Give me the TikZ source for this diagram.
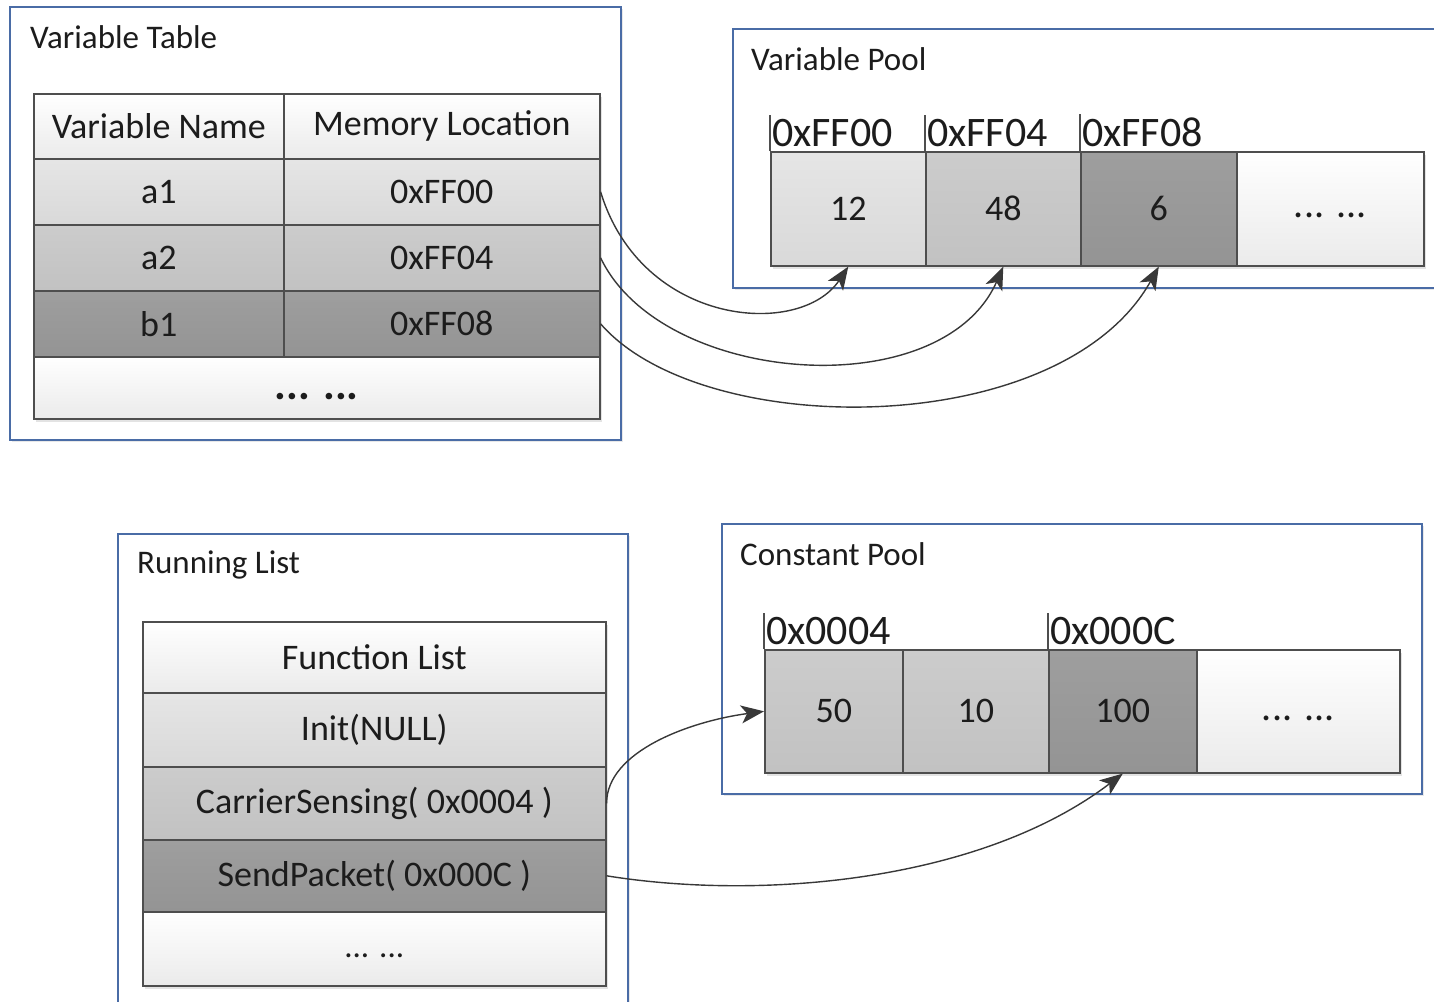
\documentclass[tikz,border=0pt]{standalone}
\usepackage{fontspec}
\setmainfont{Carlito}
\usetikzlibrary{arrows.meta,shadows}

\definecolor{frameblue}{RGB}{74,108,166}
\definecolor{cellline}{RGB}{78,78,78}
\definecolor{ink}{RGB}{28,28,28}
\definecolor{arrowgray}{RGB}{56,56,56}

\tikzset{
  frame/.style={draw=frameblue, line width=2pt, fill=white,
    drop shadow={shadow xshift=2pt, shadow yshift=-2pt, opacity=0.18}},
  title/.style={anchor=base west, inner sep=0pt, text=ink,
    font=\fontsize{33}{36}\selectfont},
  cell/.style={draw=cellline, line width=1.6pt, inner sep=0pt, anchor=north west,
    text=ink, font=\fontsize{36}{40}\selectfont,
    drop shadow={shadow xshift=2pt, shadow yshift=-3pt, opacity=0.22}},
  dotrow/.style={text height=18pt, text depth=0pt},
  blank/.style={top color=white, bottom color=black!8},
  light/.style={top color=black!10, bottom color=black!15},
  mid/.style={top color=black!20, bottom color=black!24},
  dark/.style={top color=black!38, bottom color=black!42},
  addr/.style={anchor=south west, inner xsep=2pt, inner ysep=4pt, text=ink,
    font=\fontsize{42}{46}\selectfont},
  tick/.style={draw=cellline, line width=1.2pt},
  conn/.style={draw=arrowgray, line width=1.4pt,
    -{Stealth[length=23pt, width=18pt, inset=6pt]}},
}

\begin{document}
\begin{tikzpicture}[x=1pt, y=-1pt]
\useasboundingbox (0,0) rectangle (1434,1001);

% ---------- Variable Table ----------
\path[frame] (10,7) rectangle (621,440);
\node[title] (vttitle) at (30,48) {Variable Table};

\node[cell, blank, minimum width=250pt, minimum height=65pt] (hname) at (33,93) {Variable Name};
\node[cell, blank, minimum width=316pt, minimum height=65pt] (hloc) at (283,93) {Memory Location};
\node[cell, light, minimum width=250pt, minimum height=66pt] (a1n) at (33,158) {a1};
\node[cell, light, minimum width=316pt, minimum height=66pt] (a1l) at (283,158) {0xFF00};
\node[cell, mid, minimum width=250pt, minimum height=66pt] (a2n) at (33,224) {a2};
\node[cell, mid, minimum width=316pt, minimum height=66pt] (a2l) at (283,224) {0xFF04};
\node[cell, dark, minimum width=250pt, minimum height=66pt] (b1n) at (33,290) {b1};
\node[cell, dark, minimum width=316pt, minimum height=66pt] (b1l) at (283,290) {0xFF08};
\node[cell, blank, dotrow, text height=24pt, minimum width=566pt, minimum height=62pt,
      font=\fontsize{44}{48}\selectfont\bfseries] (vtdots) at (33,356) {... ...};

% ---------- Variable Pool ----------
\path[frame] (733,29) rectangle (1445,288);
\node[title] (vptitle) at (751,70) {Variable Pool};

\node[cell, light, minimum width=155pt, minimum height=114pt] (p12) at (770,151) {12};
\node[cell, mid, minimum width=155pt, minimum height=114pt] (p48) at (925,151) {48};
\node[cell, dark, minimum width=156pt, minimum height=114pt] (p6) at (1080,151) {6};
\node[cell, blank, dotrow, minimum width=187pt, minimum height=114pt,
      font=\fontsize{40}{44}\selectfont] (pdots) at (1236,151) {... ...};

\node[addr] (lff00) at (p12.north west) {0xFF00};
\node[addr] (lff04) at (p48.north west) {0xFF04};
\node[addr] (lff08) at (p6.north west) {0xFF08};
\draw[tick] (p12.north west) -- (lff00.north west);
\draw[tick] (p48.north west) -- (lff04.north west);
\draw[tick] (p6.north west) -- (lff08.north west);

% ---------- Running List ----------
\path[frame] (118,534) rectangle (628,1012);
\node[title] (rltitle) at (137,573) {Running List};

\node[cell, blank, minimum width=463pt, minimum height=71pt] (fhead) at (142,621) {Function List};
\node[cell, light, minimum width=463pt, minimum height=74pt] (finit) at (142,692) {Init(NULL)};
\node[cell, mid, minimum width=463pt, minimum height=73pt] (fcs) at (142,766) {CarrierSensing( 0x0004 )};
\node[cell, dark, minimum width=463pt, minimum height=72pt] (fsp) at (142,839) {SendPacket( 0x000C )};
\node[cell, blank, dotrow, minimum width=463pt, minimum height=74pt,
      font=\fontsize{33}{36}\selectfont] (fdots) at (142,911) {... ...};

% ---------- Constant Pool ----------
\path[frame] (722,524) rectangle (1422,794);
\node[title] (cptitle) at (740,565) {Constant Pool};

\node[cell, mid, minimum width=138pt, minimum height=123pt] (k50) at (764,649) {50};
\node[cell, mid, minimum width=146pt, minimum height=123pt] (k10) at (902,649) {10};
\node[cell, dark, minimum width=148pt, minimum height=123pt] (k100) at (1048,649) {100};
\node[cell, blank, dotrow, minimum width=203pt, minimum height=123pt,
      font=\fontsize{40}{44}\selectfont] (kdots) at (1196,649) {... ...};

\node[addr] (l0004) at (k50.north west) {0x0004};
\node[addr] (l000c) at (k100.north west) {0x000C};
\draw[tick] (k50.north west) -- (l0004.north west);
\draw[tick] (k100.north west) -- (l000c.north west);

% ---------- references ----------
\draw[conn] (a1l.east) .. controls +(41,135) and +(-48,72) .. (p12.south);
\draw[conn] (a2l.east) .. controls +(61,128) and +(-62,140) .. (p48.south);
\draw[conn] (b1l.east) .. controls +(101,117) and +(-98,175) .. (p6.south);
\draw[conn] (fcs.east) .. controls +(0,-52) and +(-74,10) .. (k50.west);
\draw[conn] (fsp.east) .. controls +(155,25) and +(-142,108) .. (k100.south);
\end{tikzpicture}
\end{document}
